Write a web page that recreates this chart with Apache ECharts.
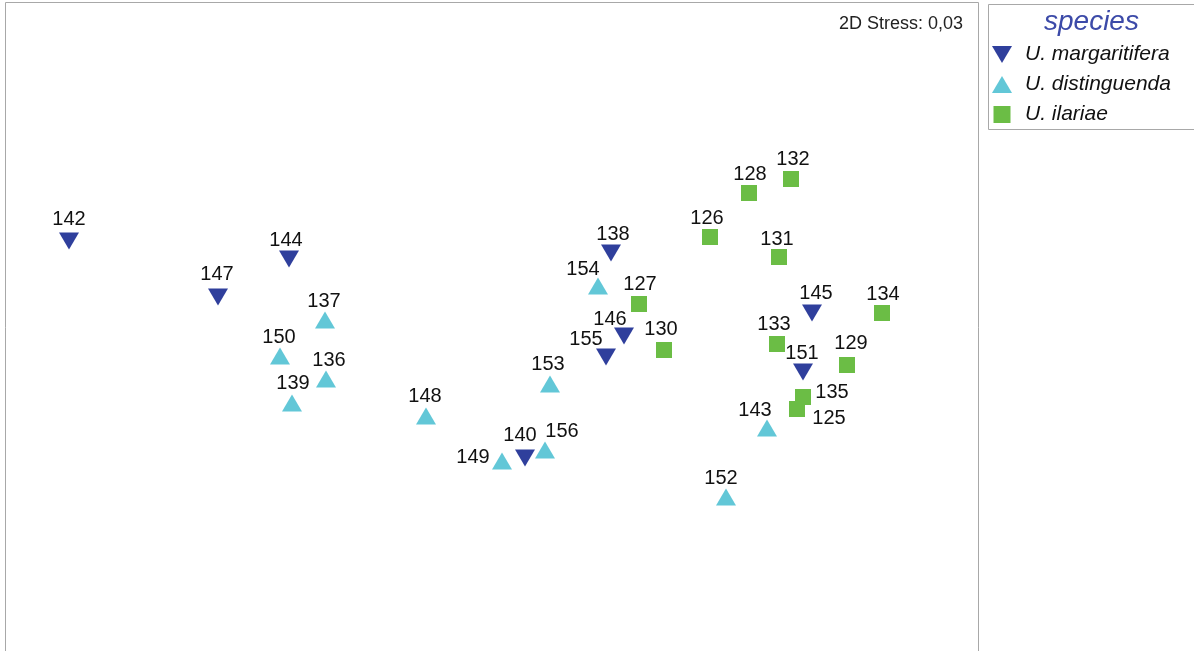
<!DOCTYPE html>
<html>
<head>
<meta charset="utf-8">
<script src="https://cdn.jsdelivr.net/npm/echarts@6/dist/echarts.min.js"></script>
<style>html,body{margin:0;padding:0;background:#fff}#c{width:1194px;height:651px}</style>
</head>
<body>
<div id="c"></div>
<script>
// NMDS ordination scores (plot units)
const margaritiferaIds = ['142','144','147','138','146','155','145','151','140'];
const margaritiferaX   = [64, 284, 213, 606, 619, 601, 807, 798, 520];
const margaritiferaY   = [409, 391, 353, 397, 314, 293, 337, 278, 192];

const distinguendaIds = ['137','150','136','139','148','154','153','149','156','143','152'];
const distinguendaX   = [320, 275, 321, 287, 421, 593, 545, 497, 540, 762, 721];
const distinguendaY   = [330, 294, 271, 247, 234, 364, 266, 189, 200, 222, 153];

const ilariaeIds = ['128','132','126','131','127','130','134','133','129','135','125'];
const ilariaeX   = [744, 786, 705, 774, 634, 659, 877, 772, 842, 798, 792];
const ilariaeY   = [457, 471, 413, 393, 346, 300, 337, 306, 285, 253, 241];

const speciesNames = ['U. margaritifera', 'U. distinguenda', 'U. ilariae'];
const stressText = '2D Stress: 0,03';

// label placement (style only)
const labelOffsets = {
  '142':[0,-22],'144':[-3,-19],'147':[-1,-23],'138':[2,-19],'146':[-14,-17],'155':[-20,-18],
  '145':[4,-20],'151':[-1,-19],'140':[-5,-23],
  '137':[-1,-19],'150':[-1,-19],'136':[3,-19],'139':[1,-20],'148':[-1,-20],'154':[-15,-17],
  '153':[-2,-20],'149':[-29,-4],'156':[17,-19],'143':[-12,-18],'152':[-5,-19],
  '128':[1,-19],'132':[2,-20],'126':[-3,-19],'131':[-2,-18],'127':[1,-20],'130':[-3,-21],
  '134':[1,-19],'133':[-3,-20],'129':[4,-22],'135':[29,-5],'125':[32,9]
};

function build(ids, xs, ys) {
  return ids.map((id, i) => ({
    value: [xs[i], ys[i], id],
    label: { offset: labelOffsets[id] || [0, -20] }
  }));
}

const colors = ['#2f3f9c', '#62c7d7', '#6bbd45'];
const downTri = 'path://M0,0 L20,0 L10,17 Z';
const upTri = 'path://M10,0 L20,17 L0,17 Z';
const square = 'path://M0,0 L16,0 L16,16 L0,16 Z';
const FONT = 'Liberation Sans, Arial, sans-serif';

const labelStyle = {
  show: true, position: 'inside', formatter: p => p.value[2],
  color: '#111', fontFamily: FONT, fontSize: 20,
  align: 'center', verticalAlign: 'middle'
};

const chart = echarts.init(document.getElementById('c'), null, {renderer: 'canvas'});
chart.setOption({
  animation: false,
  backgroundColor: '#fff',
  title: [
    { text: 'species', left: 1039, top: 3,
      textStyle: { color: '#3c4aa8', fontStyle: 'italic', fontWeight: 'normal', fontSize: 28, fontFamily: FONT } },
    { text: stressText, right: 226, top: 10,
      textStyle: { color: '#222', fontWeight: 'normal', fontSize: 18, fontFamily: FONT } }
  ],
  graphic: [
    { type: 'rect', left: 986, top: 2, shape: { width: 215, height: 125 },
      style: { fill: 'none', stroke: '#a8a8a8', lineWidth: 1 }, silent: true },
    { type: 'polyline', shape: { points: [[5.5, 660], [5.5, 2.5], [978.5, 2.5], [978.5, 660]] },
      style: { fill: 'none', stroke: '#a8a8a8', lineWidth: 1 }, silent: true }
  ],
  legend: {
    orient: 'vertical', left: 987, top: 39, itemGap: 9, itemWidth: 20, itemHeight: 17,
    symbolKeepAspect: true,
    data: [
      { name: speciesNames[0], icon: downTri },
      { name: speciesNames[1], icon: upTri },
      { name: speciesNames[2], icon: square }
    ],
    textStyle: { color: '#111', fontStyle: 'italic', fontSize: 21, lineHeight: 21, fontFamily: FONT, padding: [0,0,0,8] },
    selectedMode: false
  },
  grid: { left: 5, top: 2, width: 973, height: 648, show: false },
  xAxis: { type: 'value', min: 0, max: 973, show: false },
  yAxis: { type: 'value', min: 0, max: 648, show: false },
  series: [
    { name: speciesNames[0], type: 'scatter', symbol: downTri, symbolSize: [20, 17],
      itemStyle: { color: colors[0], opacity: 1 }, label: labelStyle,
      data: build(margaritiferaIds, margaritiferaX, margaritiferaY) },
    { name: speciesNames[1], type: 'scatter', symbol: upTri, symbolSize: [20, 17],
      itemStyle: { color: colors[1], opacity: 1 }, label: labelStyle,
      data: build(distinguendaIds, distinguendaX, distinguendaY) },
    { name: speciesNames[2], type: 'scatter', symbol: 'rect', symbolSize: 16,
      itemStyle: { color: colors[2], opacity: 1 }, label: labelStyle,
      data: build(ilariaeIds, ilariaeX, ilariaeY) }
  ]
});
</script>
</body>
</html>
